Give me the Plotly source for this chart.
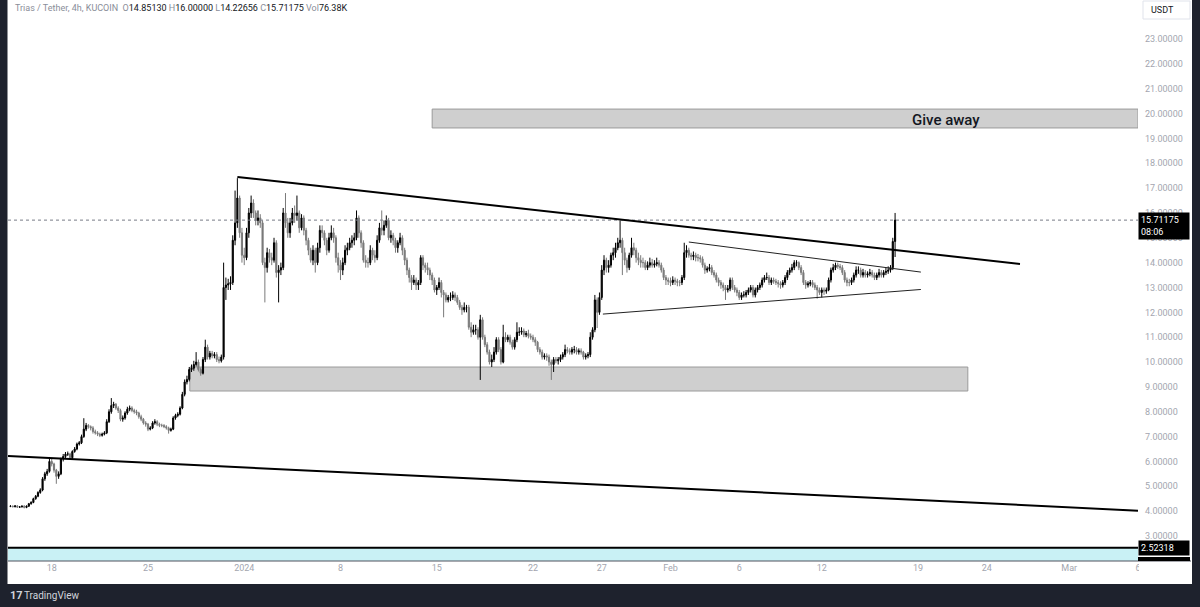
import plotly.graph_objects as go
import pandas as pd

# ---------------- data (4h candles, TRIAS/USDT KuCoin) ----------------
first_open = 4.19
start_time = "2023-12-15 00:00"

close = [
    4.20, 4.18, 4.21, 4.16, 4.17, 4.20,        # Dec 15
    4.15, 4.20, 4.30, 4.35, 4.50, 4.60,        # Dec 16
    4.75, 4.85, 5.30, 5.50, 5.60, 6.00,        # Dec 17
    5.90, 5.65, 5.40, 5.50, 6.10, 6.20,        # Dec 18
    6.30, 6.30, 6.15, 6.40, 6.50, 6.70,        # Dec 19
    6.75, 7.00, 7.30, 7.45, 7.40, 7.35,        # Dec 20
    7.20, 7.15, 7.10, 7.05, 7.10, 7.15,        # Dec 21
    7.60, 8.00, 8.25, 8.30, 8.15, 8.05,        # Dec 22
    7.70, 7.75, 7.95, 8.10, 8.15, 8.05,        # Dec 23
    8.00, 7.95, 7.80, 7.70, 7.55, 7.50,        # Dec 24
    7.30, 7.35, 7.55, 7.60, 7.50, 7.45,        # Dec 25
    7.45, 7.40, 7.35, 7.25, 7.30, 7.75,        # Dec 26
    7.85, 7.90, 8.15, 8.70, 9.20, 9.30,        # Dec 27
    9.70, 9.75, 9.90, 10.00, 9.70, 9.55,       # Dec 28
    10.10, 10.60, 10.20, 10.35, 10.25, 10.30,  # Dec 29
    10.10, 10.05, 10.20, 13.00, 13.10, 13.15,  # Dec 30
    13.20, 14.90, 15.60, 16.60, 15.20, 14.30,  # Dec 31
    14.20, 15.20, 16.00, 16.40, 16.00, 15.70,  # Jan 1
    15.80, 15.60, 14.00, 13.80, 14.40, 14.20,  # Jan 2
    14.10, 14.80, 13.60, 13.70, 13.80, 16.00,  # Jan 3
    15.60, 15.20, 15.60, 16.00, 15.90, 16.00,  # Jan 4
    15.40, 15.80, 15.30, 14.90, 14.50, 14.10,  # Jan 5
    14.50, 14.00, 14.60, 15.30, 15.20, 14.90,  # Jan 6
    14.50, 15.00, 15.20, 15.00, 14.20, 13.90,  # Jan 7
    13.70, 14.00, 14.50, 14.60, 14.80, 14.90,  # Jan 8
    15.00, 15.80, 15.20, 14.80, 14.10, 14.00,  # Jan 9
    14.00, 14.50, 14.30, 14.20, 14.90, 15.40,  # Jan 10
    15.30, 15.50, 15.70, 15.00, 15.10, 14.90,  # Jan 11
    14.60, 14.80, 15.00, 14.50, 14.10, 13.70,  # Jan 12
    13.40, 13.20, 13.30, 13.10, 13.20, 14.20,  # Jan 13
    13.90, 13.80, 13.70, 13.50, 13.30, 12.90,  # Jan 14
    13.00, 13.20, 12.80, 12.70, 12.50, 12.60,  # Jan 15
    12.60, 12.70, 12.60, 12.40, 12.20, 12.10,  # Jan 16
    12.20, 12.20, 11.40, 11.20, 11.30, 11.30,  # Jan 17
    11.00, 11.70, 11.00, 10.70, 10.40, 10.00,  # Jan 18
    10.10, 10.40, 10.90, 10.50, 10.00, 11.00,  # Jan 19
    10.90, 11.00, 10.80, 10.60, 10.90, 11.20,  # Jan 20
    11.20, 11.25, 11.10, 11.15, 11.05, 11.00,  # Jan 21
    10.90, 10.80, 10.50, 10.40, 10.20, 10.25,  # Jan 22
    10.20, 10.00, 9.90, 10.10, 10.05, 10.10,   # Jan 23
    10.20, 10.30, 10.50, 10.45, 10.40, 10.50,  # Jan 24
    10.50, 10.40, 10.45, 10.40, 10.20, 10.25,  # Jan 25
    10.30, 11.00, 11.30, 12.50, 12.00, 12.60,  # Jan 26
    13.70, 14.10, 13.80, 13.90, 14.30, 14.40,  # Jan 27
    14.60, 14.80, 14.90, 14.40, 14.10, 13.80,  # Jan 28
    14.30, 14.60, 14.50, 14.20, 14.10, 14.00,  # Jan 29
    14.00, 13.80, 13.90, 14.00, 13.90, 13.95,  # Jan 30
    14.00, 13.90, 13.70, 13.40, 13.30, 13.25,  # Jan 31
    13.20, 13.30, 13.25, 13.20, 13.20, 13.40,  # Feb 1
    14.40, 14.50, 14.30, 14.25, 14.30, 14.20,  # Feb 2
    14.20, 14.15, 13.90, 13.70, 13.75, 13.80,  # Feb 3
    13.60, 13.50, 13.30, 13.20, 13.10, 13.00,  # Feb 4
    12.90, 12.95, 13.30, 13.00, 12.90, 12.80,  # Feb 5
    12.60, 12.70, 12.70, 12.80, 12.90, 13.00,  # Feb 6
    12.70, 12.90, 13.00, 13.10, 13.30, 13.40,  # Feb 7
    13.40, 13.20, 13.30, 13.25, 13.20, 13.15,  # Feb 8
    13.10, 13.20, 13.40, 13.60, 13.70, 13.80,  # Feb 9
    14.00, 14.00, 13.80, 13.60, 13.20, 13.10,  # Feb 10
    13.15, 13.20, 13.10, 13.00, 12.90, 12.80,  # Feb 11
    12.90, 12.85, 12.90, 13.30, 13.70, 13.80,  # Feb 12
    13.90, 13.85, 13.80, 13.60, 13.30, 13.20,  # Feb 13
    13.20, 13.30, 13.50, 13.70, 13.70, 13.50,  # Feb 14
    13.60, 13.50, 13.55, 13.60, 13.50, 13.40,  # Feb 15
    13.50, 13.60, 13.50, 13.60, 13.65, 13.70,  # Feb 16
    13.80, 14.85130, 15.71175,                 # Feb 17
]

high = [
    4.24, 4.23, 4.24, 4.24, 4.20, 4.23,
    4.24, 4.23, 4.33, 4.40, 4.54, 4.65,
    4.80, 4.92, 5.37, 5.58, 5.70, 6.18,
    6.10, 5.95, 5.70, 5.60, 6.15, 6.30,
    6.38, 6.40, 6.35, 6.45, 6.58, 6.76,
    6.82, 7.08, 7.74, 7.55, 7.50, 7.45,
    7.42, 7.28, 7.22, 7.16, 7.16, 7.22,
    7.70, 8.10, 8.55, 8.40, 8.35, 8.22,
    8.12, 7.85, 8.02, 8.20, 8.25, 8.22,
    8.12, 8.08, 8.00, 7.88, 7.75, 7.62,
    7.55, 7.42, 7.62, 7.70, 7.66, 7.56,
    7.52, 7.50, 7.46, 7.40, 7.36, 7.82,
    7.92, 7.98, 8.22, 8.80, 9.30, 9.45,
    9.80, 9.90, 10.05, 10.40, 10.10, 9.78,
    10.20, 10.90, 10.70, 10.45, 10.45, 10.40,
    10.40, 10.22, 10.30, 14.00, 13.40, 13.35,
    13.45, 15.10, 16.90, 17.40, 16.70, 15.40,
    14.60, 15.40, 16.20, 16.70, 16.55, 16.10,
    16.10, 15.95, 15.70, 14.20, 14.60, 14.55,
    14.40, 15.00, 14.90, 13.90, 14.00, 16.20,
    16.80, 15.80, 15.80, 16.20, 16.30, 16.70,
    16.10, 15.95, 15.90, 15.40, 15.00, 14.60,
    14.70, 14.60, 14.80, 15.50, 15.50, 15.30,
    15.00, 15.20, 15.50, 15.40, 15.10, 14.40,
    14.10, 14.20, 14.70, 14.80, 15.00, 15.10,
    15.20, 16.10, 15.90, 15.30, 14.90, 14.30,
    14.20, 14.70, 14.60, 14.50, 15.10, 15.60,
    16.10, 15.70, 15.90, 15.80, 15.30, 15.20,
    15.00, 14.90, 15.20, 15.10, 14.60, 14.20,
    13.80, 13.50, 13.50, 13.40, 13.30, 14.30,
    14.30, 14.00, 14.00, 13.80, 13.60, 13.40,
    13.10, 13.40, 13.30, 12.90, 12.80, 12.70,
    12.80, 12.85, 12.80, 12.70, 12.50, 12.30,
    12.40, 12.30, 12.30, 11.60, 11.50, 11.50,
    11.40, 11.90, 11.80, 11.10, 10.80, 10.50,
    10.30, 10.60, 11.00, 11.00, 10.60, 11.50,
    11.20, 11.10, 11.10, 10.90, 11.00, 11.60,
    11.40, 11.40, 11.35, 11.25, 11.30, 11.15,
    11.10, 11.00, 10.85, 10.60, 10.50, 10.35,
    10.35, 10.30, 10.10, 10.20, 10.20, 10.20,
    10.30, 10.40, 10.70, 10.60, 10.55, 10.60,
    10.65, 10.60, 10.55, 10.55, 10.45, 10.35,
    10.40, 11.20, 11.40, 12.70, 12.60, 12.80,
    13.90, 14.30, 14.20, 14.10, 14.40, 14.60,
    14.80, 15.00, 15.70, 15.00, 14.60, 14.20,
    14.40, 15.00, 14.80, 14.60, 14.40, 14.30,
    14.20, 14.10, 14.05, 14.20, 14.15, 14.10,
    14.20, 14.10, 14.00, 13.80, 13.50, 13.40,
    13.40, 13.45, 13.40, 13.35, 13.30, 13.50,
    14.80, 14.70, 14.60, 14.40, 14.45, 14.40,
    14.35, 14.30, 14.25, 14.00, 13.85, 13.95,
    13.90, 13.70, 13.60, 13.40, 13.30, 13.20,
    13.10, 13.10, 13.40, 13.40, 13.10, 13.00,
    12.90, 12.80, 12.85, 12.90, 13.00, 13.10,
    13.10, 13.00, 13.10, 13.20, 13.40, 13.50,
    13.60, 13.50, 13.40, 13.40, 13.35, 13.30,
    13.25, 13.30, 13.50, 13.70, 13.80, 13.95,
    14.10, 14.10, 14.05, 13.90, 13.70, 13.30,
    13.25, 13.30, 13.30, 13.20, 13.10, 13.00,
    13.00, 13.00, 13.00, 13.40, 13.80, 13.95,
    14.00, 14.00, 13.95, 13.90, 13.70, 13.40,
    13.35, 13.40, 13.60, 13.85, 13.85, 13.80,
    13.75, 13.70, 13.65, 13.75, 13.70, 13.60,
    13.60, 13.75, 13.70, 13.70, 13.80, 13.85,
    13.90, 15.00, 16.00000,
]

low = [
    4.16, 4.15, 4.15, 4.13, 4.13, 4.15,
    4.11, 4.12, 4.17, 4.26, 4.32, 4.46,
    4.56, 4.70, 4.80, 5.22, 5.42, 5.55,
    5.80, 5.55, 5.10, 5.30, 5.45, 6.00,
    6.14, 6.22, 6.08, 6.10, 6.35, 6.45,
    6.64, 6.70, 6.95, 7.22, 7.32, 7.25,
    7.12, 7.08, 7.02, 6.98, 7.00, 7.05,
    7.10, 7.55, 7.92, 8.15, 8.08, 7.95,
    7.62, 7.60, 7.68, 7.88, 8.02, 7.98,
    7.92, 7.86, 7.72, 7.62, 7.48, 7.40,
    7.22, 7.25, 7.30, 7.48, 7.42, 7.38,
    7.38, 7.34, 7.28, 7.12, 7.20, 7.26,
    7.68, 7.78, 7.85, 8.10, 8.62, 9.10,
    9.22, 9.60, 9.65, 9.82, 9.62, 9.45,
    9.50, 10.00, 10.10, 10.10, 10.15, 10.15,
    10.00, 9.95, 9.98, 10.10, 12.50, 12.90,
    12.90, 13.10, 14.70, 15.40, 15.00, 14.00,
    13.90, 14.10, 15.00, 15.80, 15.80, 15.50,
    15.50, 15.40, 13.90, 12.40, 13.60, 14.00,
    13.90, 14.00, 13.40, 12.40, 13.50, 13.70,
    15.40, 15.00, 15.00, 15.50, 15.60, 15.70,
    15.20, 15.30, 15.10, 14.70, 14.30, 14.00,
    13.90, 13.60, 13.90, 14.40, 15.00, 14.70,
    14.30, 14.40, 14.90, 14.80, 14.00, 13.60,
    13.30, 13.50, 13.90, 14.30, 14.50, 14.60,
    14.70, 14.90, 15.00, 14.60, 14.00, 13.80,
    13.80, 13.90, 14.10, 14.00, 14.10, 14.80,
    15.10, 15.10, 15.40, 14.90, 14.80, 14.70,
    14.40, 14.40, 14.70, 14.30, 13.90, 13.50,
    13.20, 12.90, 13.10, 12.90, 12.90, 13.10,
    13.70, 13.60, 13.50, 13.30, 13.10, 12.80,
    12.70, 12.90, 12.60, 11.80, 12.40, 12.40,
    12.45, 12.50, 12.45, 12.30, 12.10, 11.90,
    12.00, 12.00, 11.30, 11.00, 11.10, 11.10,
    10.90, 9.28, 10.90, 10.60, 10.30, 9.90,
    9.80, 10.00, 10.30, 10.40, 9.90, 9.95,
    10.80, 10.80, 10.70, 10.50, 10.50, 10.80,
    11.05, 11.10, 11.00, 11.00, 10.95, 10.90,
    10.80, 10.65, 10.40, 10.30, 10.10, 10.10,
    10.05, 9.85, 9.28, 9.60, 9.95, 9.90,
    10.00, 10.10, 10.20, 10.35, 10.30, 10.30,
    10.35, 10.30, 10.30, 10.30, 10.10, 10.10,
    10.15, 10.20, 10.90, 11.20, 11.37, 11.90,
    12.50, 13.50, 13.60, 13.60, 13.80, 14.10,
    14.20, 14.50, 14.60, 13.50, 13.90, 13.60,
    13.70, 14.20, 14.30, 14.00, 13.90, 13.80,
    13.80, 13.70, 13.70, 13.80, 13.80, 13.80,
    13.85, 13.80, 13.60, 13.30, 13.10, 13.10,
    13.05, 13.10, 13.10, 13.05, 13.05, 13.10,
    13.30, 14.20, 14.20, 14.10, 14.10, 14.05,
    14.05, 14.00, 13.80, 13.55, 13.60, 13.65,
    13.50, 13.40, 13.20, 13.05, 12.95, 12.85,
    12.50, 12.80, 12.85, 12.90, 12.80, 12.65,
    12.50, 12.50, 12.60, 12.60, 12.70, 12.80,
    12.60, 12.60, 12.80, 12.90, 13.00, 13.20,
    13.30, 13.10, 13.10, 13.15, 13.10, 13.00,
    12.95, 13.00, 13.10, 13.30, 13.50, 13.60,
    13.70, 13.85, 13.70, 13.50, 13.10, 12.95,
    13.00, 13.05, 13.00, 12.90, 12.55, 12.70,
    12.60, 12.70, 12.75, 12.85, 13.20, 13.60,
    13.70, 13.75, 13.70, 13.50, 13.20, 13.05,
    13.05, 13.10, 13.20, 13.40, 13.55, 13.40,
    13.40, 13.40, 13.40, 13.45, 13.40, 13.30,
    13.30, 13.40, 13.40, 13.40, 13.50, 13.55,
    13.60, 13.70, 14.22656,
]

# x-axis labels (TradingView style)
tick_dates = ["2023-12-18", "2023-12-25", "2024-01-01", "2024-01-08", "2024-01-15",
              "2024-01-22", "2024-01-27", "2024-02-01", "2024-02-06", "2024-02-12",
              "2024-02-19", "2024-02-24", "2024-03-01", "2024-03-06"]
tick_text = ["18", "25", "2024", "8", "15", "22", "27", "Feb", "6", "12", "19", "24", "Mar", "6"]
price_ticks = list(range(3, 24))

# price levels & drawings
last_price = 15.71175
level_a = 2.52318
level_b = 2.06260
trend_main = [("2023-12-31 12:00", 17.45), ("2024-02-26 10:00", 13.95)]
tri_upper = [("2024-02-02 08:00", 14.83), ("2024-02-19 05:00", 13.62)]
tri_lower = [("2024-01-27 02:00", 11.93), ("2024-02-19 05:00", 12.92)]
long_line = [("2023-12-14 19:40", 6.22), ("2024-03-06 00:00", 4.02)]
zone_top = [("2024-01-14 16:00", 19.42), ("2024-03-06 00:00", 20.18)]
zone_low = [("2023-12-28 01:00", 8.835), ("2024-02-22 15:00", 9.80)]
zone_text = ("2024-02-21 01:00", 19.74, "Give away")

header = ("Trias / Tether, 4h, KUCOIN", [("O", "14.85130"), ("H", "16.00000"),
                                         ("L", "14.22656"), ("C", "15.71175"), ("Vol", "76.38K")])

x_range = ["2023-12-14 19:40", "2024-03-06 00:00"]
y_range = [1.994, 24.569]

# ---------------- figure ----------------
times = pd.date_range(start_time, periods=len(close), freq="4h")
open_ = [first_open] + close[:-1]

FONT = "Roboto, 'Liberation Sans', sans-serif"
W, H = 1200, 607
ML, MR, MT, MB = 8, 62, 0, 46
PW, PH = W - ML - MR, H - MT - MB


def px(x):
    return (x - ML) / PW


def py(y):
    return (H - MB - y) / PH


fig = go.Figure()
fig.add_trace(go.Candlestick(
    x=times, open=open_, high=high, low=low, close=close,
    increasing=dict(line=dict(color="#000000", width=1), fillcolor="#000000"),
    decreasing=dict(line=dict(color="#7a7a7a", width=1), fillcolor="#7a7a7a"),
    whiskerwidth=0, hoverinfo="skip", showlegend=False,
))

shapes = []
# zones
shapes.append(dict(type="rect", xref="x", yref="y", x0=zone_top[0][0], x1=zone_top[1][0],
                   y0=zone_top[0][1], y1=zone_top[1][1], fillcolor="#cfcfcf",
                   line=dict(color="#9a9a9a", width=1), layer="below"))
shapes.append(dict(type="rect", xref="x", yref="y", x0=zone_low[0][0], x1=zone_low[1][0],
                   y0=zone_low[0][1], y1=zone_low[1][1], fillcolor="#cfcfcf",
                   line=dict(color="#9a9a9a", width=1), layer="below"))
# cyan band at the bottom
shapes.append(dict(type="rect", xref="paper", yref="y", x0=0, x1=1, y0=level_b - 0.2, y1=level_a,
                   fillcolor="#c9f1f5", line=dict(width=0), layer="below"))
shapes.append(dict(type="line", xref="paper", yref="y", x0=0, x1=1, y0=level_a, y1=level_a,
                   line=dict(color="#000000", width=2)))
# last price dotted line
shapes.append(dict(type="line", xref="paper", yref="y", x0=0, x1=1, y0=last_price, y1=last_price,
                   line=dict(color="#787b86", width=1, dash="dot")))
# trend lines
for (p0, p1), wdt, col in [(trend_main, 2, "#000000"), (tri_upper, 1, "#222222"),
                           (tri_lower, 1, "#222222"), (long_line, 2, "#000000")]:
    shapes.append(dict(type="line", xref="x", yref="y", x0=p0[0], y0=p0[1], x1=p1[0], y1=p1[1],
                       line=dict(color=col, width=wdt)))
# time axis separator
shapes.append(dict(type="line", xref="paper", yref="paper", x0=0, x1=px(1191), y0=0, y1=0,
                   line=dict(color="#50535e", width=1)))
# cut label sliver (second level label)
shapes.append(dict(type="rect", xref="paper", yref="paper", x0=1, x1=px(1190), y0=py(561), y1=py(557),
                   fillcolor="#000000", line=dict(width=0)))
# cover half of last time label at the chart edge
shapes.append(dict(type="rect", xref="paper", yref="paper", x0=px(1139), x1=px(1191), y0=py(583), y1=py(562),
                   fillcolor="#ffffff", line=dict(width=0)))
# USDT box
shapes.append(dict(type="rect", xref="paper", yref="paper", x0=px(1143), x1=px(1190), y0=py(19), y1=py(1),
                   fillcolor="#ffffff", line=dict(color="#e0e3eb", width=1)))
# dark frame
DARK = "#1e222d"
shapes.append(dict(type="rect", xref="paper", yref="paper", x0=px(-2), x1=px(7.5), y0=py(610), y1=py(-2),
                   fillcolor=DARK, line=dict(width=0)))
shapes.append(dict(type="rect", xref="paper", yref="paper", x0=px(1192), x1=px(1202), y0=py(610), y1=py(-2),
                   fillcolor=DARK, line=dict(width=0)))
shapes.append(dict(type="rect", xref="paper", yref="paper", x0=px(-2), x1=px(1202), y0=py(610), y1=py(584),
                   fillcolor=DARK, line=dict(width=0)))

annotations = []
# header
label_col, value_col = "#8a8e99", "#131722"
parts = [f'<span style="color:{label_col}">{header[0]}&nbsp;&nbsp;</span>']
for k, v in header[1]:
    parts.append(f'<span style="color:{label_col}">{k}</span><span style="color:{value_col}">{v}</span>&nbsp;')
annotations.append(dict(xref="paper", yref="paper", x=px(13), y=py(8), xanchor="left", yanchor="middle",
                        text="".join(parts), showarrow=False, font=dict(family=FONT, size=9, color=value_col)))
# zone text
annotations.append(dict(xref="x", yref="y", x=zone_text[0], y=zone_text[1], text=zone_text[2],
                        showarrow=False, font=dict(family=FONT, size=15, color="#131722", weight=500)))
# price labels
annotations.append(dict(xref="paper", yref="y", x=1, y=last_price, xanchor="left", yanchor="top", yshift=8,
                        text=f"{last_price:.5f}<br>08:06", align="left", showarrow=False, bgcolor="#000000",
                        width=46, borderpad=2, font=dict(family=FONT, size=9, color="#ffffff")))
annotations.append(dict(xref="paper", yref="y", x=1, y=level_a, xanchor="left", yanchor="middle",
                        text=f"{level_a:.5f}", align="left", showarrow=False, bgcolor="#000000",
                        width=46, borderpad=2, font=dict(family=FONT, size=9, color="#ffffff")))
# USDT
annotations.append(dict(xref="paper", yref="paper", x=px(1149), y=py(10), xanchor="left", yanchor="middle",
                        text="USDT", showarrow=False, font=dict(family=FONT, size=9, color="#131722")))
# footer
annotations.append(dict(xref="paper", yref="paper", x=px(8), y=py(595), xanchor="left", yanchor="middle",
                        text="<b>17</b>", showarrow=False, font=dict(family=FONT, size=11, color="#d1d4dc")))
annotations.append(dict(xref="paper", yref="paper", x=px(22), y=py(595), xanchor="left", yanchor="middle",
                        text="TradingView", showarrow=False, font=dict(family=FONT, size=10, color="#d1d4dc")))

fig.update_layout(
    width=W, height=H, margin=dict(l=ML, r=MR, t=MT, b=MB, autoexpand=False),
    paper_bgcolor="#ffffff", plot_bgcolor="#ffffff",
    shapes=shapes, annotations=annotations, showlegend=False,
    xaxis=dict(range=x_range, type="date", rangeslider=dict(visible=False), showgrid=False,
               zeroline=False, showline=False, tickmode="array", tickvals=tick_dates, ticktext=tick_text,
               ticks="", tickfont=dict(family=FONT, size=9, color="#a3a6af")),
    yaxis=dict(range=y_range, side="right", showgrid=False, zeroline=False, showline=False,
               tickmode="array", tickvals=price_ticks, ticktext=[f"{v:.5f}" for v in price_ticks],
               ticks="", ticklabelstandoff=6, tickfont=dict(family=FONT, size=9, color="#a3a6af")),
    font=dict(family=FONT),
)

fig.write_html("out.html")
